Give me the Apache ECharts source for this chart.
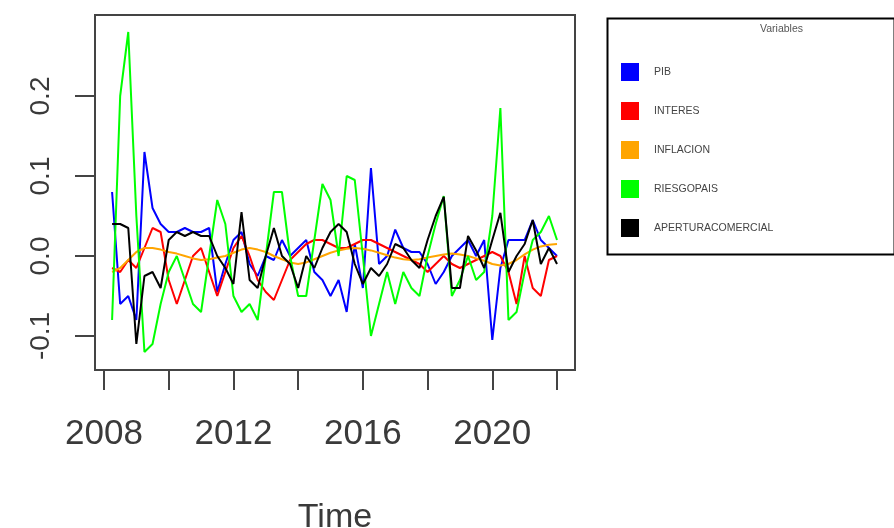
<!DOCTYPE html>
<html>
<head>
<meta charset="utf-8">
<script src="https://cdn.jsdelivr.net/npm/echarts@6/dist/echarts.min.js"></script>
<style>
  html, body { margin: 0; padding: 0; background: #fff; }
  #chart { width: 894px; height: 528px; }
</style>
</head>
<body>
<div id="chart"></div>
<script>
// quarterly, 2008 Q2 .. 2022 Q1
const startYear = 2008.25;
const step = 0.25;

const pib = [0.08, -0.06, -0.05, -0.08, 0.13, 0.06, 0.04, 0.03, 0.03, 0.035, 0.03, 0.03, 0.035, -0.045,
  -0.01, 0.02, 0.03, -0.01, -0.025, 0.0, -0.005, 0.02, 0.0, 0.01, 0.02, -0.02, -0.03, -0.05,
  -0.03, -0.07, 0.015, -0.04, 0.11, -0.01, 0.0, 0.033, 0.01, 0.005, 0.005, -0.01, -0.035, -0.02,
  0.0, 0.01, 0.02, 0.0, 0.02, -0.105, -0.015, 0.02, 0.02, 0.02, 0.045, 0.02, 0.01, 0.0];

const interes = [-0.015, -0.02, -0.005, -0.015, 0.01, 0.035, 0.03, -0.03, -0.06, -0.03, 0.0, 0.01, -0.02, -0.05,
  -0.02, 0.01, 0.025, 0.0, -0.03, -0.045, -0.055, -0.03, -0.005, 0.005, 0.015, 0.02, 0.02, 0.015,
  0.01, 0.01, 0.015, 0.02, 0.02, 0.015, 0.01, 0.005, 0.0, -0.005, -0.01, -0.02, -0.01, 0.0,
  -0.01, -0.015, -0.01, -0.005, 0.0, 0.005, 0.0, -0.02, -0.06, 0.0, -0.04, -0.05, -0.005, 0.0];

const inflacion = [-0.02, -0.015, -0.005, 0.005, 0.01, 0.01, 0.008, 0.005, 0.003, 0.0, -0.003, -0.005, -0.004, -0.002,
  0.0, 0.004, 0.008, 0.01, 0.008, 0.005, 0.0, -0.004, -0.008, -0.01, -0.008, -0.004, 0.0, 0.004,
  0.007, 0.009, 0.01, 0.009, 0.007, 0.004, 0.001, -0.002, -0.004, -0.005, -0.004, -0.002, 0.0, 0.002,
  0.003, 0.002, 0.0, -0.003, -0.006, -0.01, -0.012, -0.01, -0.005, 0.002, 0.008, 0.012, 0.014, 0.015];

const riesgoPais = [-0.08, 0.2, 0.28, 0.05, -0.12, -0.11, -0.06, -0.02, 0.0, -0.03, -0.06, -0.07, 0.0, 0.07,
  0.04, -0.05, -0.07, -0.06, -0.08, 0.0, 0.08, 0.08, 0.0, -0.05, -0.05, 0.02, 0.09, 0.07,
  0.0, 0.1, 0.095, 0.0, -0.1, -0.06, -0.02, -0.06, -0.02, -0.04, -0.05, 0.0, 0.04, 0.075,
  -0.05, -0.03, 0.0, -0.03, -0.02, 0.05, 0.185, -0.08, -0.07, -0.02, 0.02, 0.03, 0.05, 0.02];

const apertura = [0.04, 0.04, 0.035, -0.11, -0.025, -0.02, -0.04, 0.02, 0.03, 0.025, 0.03, 0.025, 0.025, 0.0,
  -0.015, -0.035, 0.055, -0.03, -0.04, 0.0, 0.035, 0.0, -0.01, -0.04, 0.0, -0.015, 0.01, 0.03,
  0.04, 0.03, -0.01, -0.035, -0.015, -0.025, -0.01, 0.015, 0.01, -0.005, -0.015, 0.02, 0.05, 0.074,
  -0.04, -0.04, 0.025, 0.007, -0.015, 0.02, 0.054, -0.02, 0.0, 0.015, 0.045, -0.01, 0.01, -0.01];

const seriesNames = ['PIB', 'INTERES', 'INFLACION', 'RIESGOPAIS', 'APERTURACOMERCIAL'];
const seriesColors = ['#0000ff', '#ff0000', '#ffa500', '#00ff00', '#000000'];
const seriesValues = [pib, interes, inflacion, riesgoPais, apertura];

const xTicks = [2008, 2010, 2012, 2014, 2016, 2018, 2020, 2022];
const xLabels = [2008, 2012, 2016, 2020];
const yTicks = [-0.1, 0.0, 0.1, 0.2];

const font = 'Liberation Sans, Arial, sans-serif';

const chart = echarts.init(document.getElementById('chart'));

const series = seriesNames.map((name, k) => ({
  name: name,
  type: 'line',
  data: seriesValues[k].map((v, i) => [startYear + i * step, v]),
  showSymbol: false,
  lineStyle: { color: seriesColors[k], width: 2 },
  itemStyle: { color: seriesColors[k] },
  z: 2 + k
}));

chart.setOption({
  animation: false,
  grid: {
    left: 95, top: 15, width: 480, height: 355,
    outerBoundsMode: 'none',
    containLabel: false,
    show: true, borderColor: '#444', borderWidth: 2, backgroundColor: 'transparent'
  },
  xAxis: {
    type: 'value',
    min: 2007.722, max: 2022.556,
    splitLine: { show: false },
    axisLine: { show: false, onZero: false },
    axisTick: { show: true, length: 20, customValues: xTicks, lineStyle: { color: '#444', width: 2 } },
    axisLabel: {
      customValues: xLabels, margin: 47, color: '#3a3a3a',
      fontFamily: font, fontSize: 35,
      formatter: v => String(v)
    },
    name: 'Time', nameLocation: 'middle', nameGap: 131,
    nameTextStyle: { fontFamily: font, fontSize: 34, color: '#3a3a3a' }
  },
  yAxis: {
    type: 'value',
    min: -0.1425, max: 0.30125,
    splitLine: { show: false },
    axisLine: { show: false, onZero: false },
    axisTick: { show: true, length: 20, customValues: yTicks, lineStyle: { color: '#444', width: 2 } },
    axisLabel: {
      customValues: yTicks, rotate: 90, margin: 40, color: '#3a3a3a',
      fontFamily: font, fontSize: 28,
      formatter: v => v.toFixed(1)
    }
  },
  legend: {
    orient: 'vertical',
    left: 616, top: 58,
    icon: 'rect',
    itemWidth: 18, itemHeight: 18, itemGap: 21,
    data: seriesNames,
    textStyle: { fontFamily: font, fontSize: 10.5, color: '#444', padding: [0, 0, 0, 10] }
  },
  graphic: [
    {
      type: 'rect', left: 605, top: 16,
      shape: { width: 287, height: 236 },
      style: { fill: 'none', stroke: '#000', lineWidth: 2 }
    },
    {
      type: 'text', left: 760, top: 24,
      style: { text: 'Variables', fontFamily: font, fontSize: 10.5, fill: '#555' }
    }
  ],
  series: series
});
</script>
</body>
</html>
